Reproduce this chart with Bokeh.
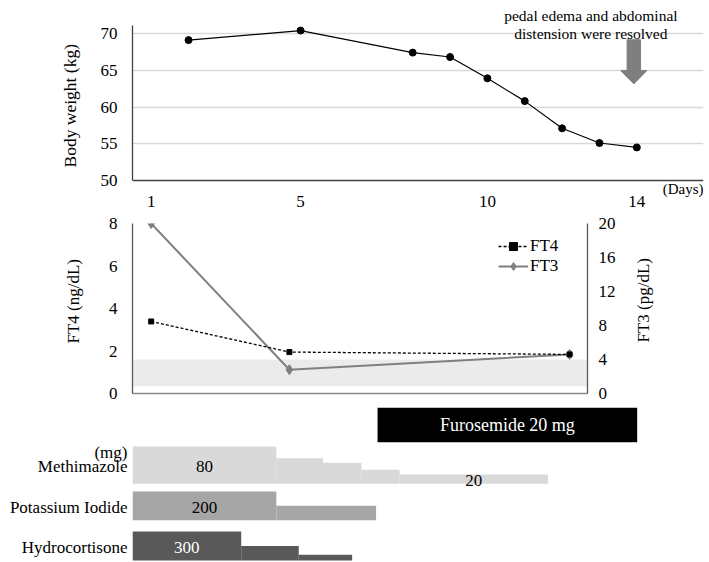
import math
from bokeh.plotting import figure
from bokeh.models import (Range1d, LinearAxis, FixedTicker, Label, Legend,
                          LegendItem, BoxAnnotation, Grid, Title)
from bokeh.embed import file_html
from bokeh.resources import INLINE
from bokeh.core.properties import value

FONT = "Liberation Serif"
NBSP = "\u00a0"

# ---------------- data ----------------
day_ticks = [1, 5, 10, 14]
weight_days = [2, 5, 8, 9, 10, 11, 12, 13, 14]
weight_kg = [69.1, 70.4, 67.4, 66.8, 63.9, 60.8, 57.1, 55.1, 54.5]
weight_ticks = [50, 55, 60, 65, 70]

lab_days = [1, 4.7, 12.2]
ft4_values = [3.39, 1.95, 1.84]
ft3_values = [20.0, 2.8, 4.6]
ft4_ticks = [0, 2, 4, 6, 8]
ft3_ticks = [0, 4, 8, 12, 16, 20]
ft4_normal_low = 0.34
ft4_normal_high = 1.6

furosemide_start = 7.06
furosemide_end = 14.01
furosemide_text = "Furosemide 20 mg"

drug_names = ["Methimazole", "Potassium Iodide", "Hydrocortisone"]
methimazole_edges = [0.5, 4.35, 5.6, 6.63, 7.65, 11.62]
methimazole_mg = [80, 55, 45, 30, 20]
ki_edges = [0.5, 4.35, 7.02]
ki_mg = [200, 100]
hc_edges = [0.5, 3.41, 4.95, 6.38]
hc_mg = [300, 150, 60]
dose_labels = {"Methimazole": [0, 4], "Potassium Iodide": [0], "Hydrocortisone": [0]}

annotation_lines = ["pedal edema and abdominal", "distension were resolved"]
arrow_day = 13.92

# ---------------- styles ----------------
W = 709
PXD = 37.357          # pixels per day
PXKG = 7.35           # pixels per kg
AX = "#404040"
GRID = "#d9d9d9"


def style_axis(ax, size="17px"):
    ax.major_tick_out = 0
    ax.major_tick_in = 0
    ax.minor_tick_out = 0
    ax.minor_tick_in = 0
    ax.major_label_text_font = FONT
    ax.major_label_text_font_size = size
    ax.major_label_text_color = "#000000"
    ax.axis_label_text_font = FONT
    ax.axis_label_text_font_size = "17px"
    ax.axis_label_text_font_style = "normal"
    ax.axis_label_text_color = "#000000"


def side_title(text, offset, standoff, size="17px"):
    return Title(text=text, align="left", offset=offset, standoff=standoff,
                 vertical_align="bottom", text_font=FONT,
                 text_font_size=size, text_font_style="normal",
                 text_color="#000000")


# ---------------- top: body weight ----------------
# frame spans the whole upper area; 50 kg sits 18 px above the frame bottom
y0 = weight_ticks[0] - 18 / PXKG
pA = figure(width=W, height=213, output_backend="svg", toolbar_location=None,
            x_range=Range1d(0.5, 0.5 + 571 / PXD),
            y_range=Range1d(y0, y0 + 198 / PXKG),
            min_border_left=132, min_border_right=6, min_border_top=0,
            min_border_bottom=15)
pA.outline_line_color = None
pA.xgrid.visible = False
pA.ygrid.ticker = FixedTicker(ticks=weight_ticks[1:])
pA.ygrid.grid_line_color = GRID
pA.ygrid.grid_line_width = 1.3
pA.ygrid.bounds = (0.5, 14.5)
# x axis line at 50 kg, limited to the day span
pA.add_layout(Grid(dimension=1, ticker=FixedTicker(ticks=[weight_ticks[0]]),
                   bounds=(0.5, 14.5), grid_line_color=AX, grid_line_width=1.3))

xa = pA.xaxis[0]
style_axis(xa)
xa.ticker = FixedTicker(ticks=day_ticks)
xa.axis_line_color = None
xa.major_label_standoff = -3

ya = pA.yaxis[0]
style_axis(ya)
ya.ticker = FixedTicker(ticks=weight_ticks)
ya.bounds = (weight_ticks[0], 50 + 155 / PXKG)
ya.axis_line_color = AX
ya.axis_line_width = 1.3
ya.major_label_standoff = 15
pA.add_layout(side_title("Body weight (kg)", 31, 36, "17.5px"), "left")

pA.line(weight_days, weight_kg, line_color="#000000", line_width=1.2)
pA.scatter(weight_days, weight_kg, marker="circle", size=7,
           fill_color="#000000", line_color="#000000")

# arrow (annotation) built around arrow_day
a_top, a_head, a_tip = 69.15, 64.95, 63.15
sh, hh = 0.18, 0.35
pA.patch([arrow_day - sh, arrow_day + sh, arrow_day + sh, arrow_day + hh,
          arrow_day, arrow_day - hh, arrow_day - sh],
         [a_top, a_top, a_head, a_head, a_tip, a_head, a_head],
         fill_color="#7f7f7f", line_color="#7f7f7f")

for i, txt in enumerate(annotation_lines):
    pA.add_layout(Label(x=12.77, x_units="data", y=183 - 18 * i, y_units="screen",
                        text=txt, text_align="center", text_baseline="alphabetic",
                        text_font=FONT, text_font_size="15.5px", text_color="#000000"))

pA.add_layout(Label(x=571, x_units="screen", y=10, y_units="screen",
                    text="(Days)", text_align="right", text_baseline="middle",
                    text_font=FONT, text_font_size="15px", text_color="#000000"))

# ---------------- middle: thyroid hormones ----------------
pB = figure(width=W, height=190, output_backend="svg", toolbar_location=None,
            x_range=Range1d(0.5, 0.5 + 455 / PXD), y_range=Range1d(0, 8),
            min_border_left=132, min_border_right=122, min_border_top=10,
            min_border_bottom=10)
pB.outline_line_color = None
pB.grid.visible = False
pB.extra_y_ranges = {"ft3": Range1d(0, 20)}

pB.add_layout(BoxAnnotation(bottom=ft4_normal_low, top=ft4_normal_high,
                            fill_color="#ebebeb", fill_alpha=1.0,
                            line_color=None, level="underlay"))

style_axis(pB.xaxis[0])
pB.xaxis[0].ticker = FixedTicker(ticks=[])
pB.xaxis[0].major_label_text_font_size = "0px"
pB.xaxis[0].axis_line_color = "#8c8c8c"
pB.xaxis[0].axis_line_width = 1.3

yb = pB.yaxis[0]
style_axis(yb)
yb.ticker = FixedTicker(ticks=ft4_ticks)
yb.axis_line_color = "#595959"
yb.axis_line_width = 1.3
yb.major_label_standoff = 15
pB.add_layout(side_title("FT4 (ng/dL)", 50, 46), "left")

rax = LinearAxis(y_range_name="ft3", ticker=FixedTicker(ticks=ft3_ticks))
style_axis(rax)
rax.axis_line_color = "#595959"
rax.axis_line_width = 1.3
rax.major_label_standoff = 11
rax.axis_label = NBSP * 12 + "FT3 (pg/dL)"
rax.axis_label_standoff = 25
rax.axis_label_orientation = math.pi / 2
rax.axis_label_align = "start"
pB.add_layout(rax, "right")

l3 = pB.line(lab_days, ft3_values, y_range_name="ft3", line_color="#7f7f7f",
             line_width=2)
s3 = pB.scatter(lab_days, ft3_values, y_range_name="ft3", marker="diamond",
                size=10, fill_color="#7f7f7f", line_color="#7f7f7f")
l4 = pB.line(lab_days, ft4_values, line_color="#000000", line_width=1.3,
             line_dash="3 2")
s4 = pB.scatter(lab_days, ft4_values, marker="square", size=5,
                fill_color="#000000", line_color="#000000")

legend = Legend(items=[LegendItem(label="FT4", renderers=[l4, s4]),
                       LegendItem(label="FT3", renderers=[l3, s3])],
                location=(366, 117), orientation="vertical")
legend.border_line_color = None
legend.background_fill_alpha = 0
legend.padding = 0
legend.margin = 0
legend.spacing = 0
legend.glyph_width = 30
legend.glyph_height = 20
legend.label_height = 20
legend.label_standoff = 2
legend.label_text_font = FONT
legend.label_text_font_size = "17px"
legend.label_text_color = "#000000"
pB.add_layout(legend)

# ---------------- bottom: medications ----------------
pC = figure(width=W, height=159, output_backend="svg", toolbar_location=None,
            x_range=Range1d(0.5, 14.5), y_range=Range1d(0, 159),
            x_axis_location=None,
            min_border_left=132, min_border_right=54, min_border_top=0,
            min_border_bottom=0)
pC.outline_line_color = None
pC.grid.visible = False

# Furosemide band
fb, ft = 120.3, 154.7
pC.quad(left=[furosemide_start], right=[furosemide_end], bottom=[fb], top=[ft],
        fill_color="#000000", line_color=None)
pC.text(x=[(furosemide_start + furosemide_end) / 2], y=[(fb + ft) / 2],
        text=[furosemide_text], text_align="center", text_baseline="middle",
        text_font=value(FONT), text_font_size=value("18px"), text_color="#ffffff")

rows = [
    ("Methimazole", methimazole_edges, methimazole_mg, 78.7, 37.3, "#d9d9d9", "#000000"),
    ("Potassium Iodide", ki_edges, ki_mg, 42.3, 28.7, "#a6a6a6", "#000000"),
    ("Hydrocortisone", hc_edges, hc_mg, 2.0, 29.0, "#595959", "#ffffff"),
]
row_ticks = []
row_names = {}
for name, edges, mg, base, hmax, color, tcolor in rows:
    scale = hmax / max(mg)
    pC.quad(left=edges[:-1], right=edges[1:], bottom=[base] * len(mg),
            top=[base + m * scale for m in mg], fill_color=color, line_color=None)
    idx = dose_labels[name]
    pC.text(x=[(edges[i] + edges[i + 1]) / 2 for i in idx],
            y=[base + mg[i] * scale / 2 - 1.5 for i in idx],
            text=[str(mg[i]) for i in idx], text_align="center",
            text_baseline="middle", text_font=value(FONT),
            text_font_size=value("17px"), text_color=tcolor)
    t = round(base + hmax / 2 - 1.5, 2)
    row_ticks.append(t)
    row_names[t] = name
    if name == "Methimazole":
        t2 = round(base + hmax - 5.5, 2)
        row_ticks.append(t2)
        row_names[t2] = "(mg)"

yc = pC.yaxis[0]
style_axis(yc)
yc.ticker = FixedTicker(ticks=row_ticks)
yc.major_label_overrides = row_names
yc.axis_line_color = None
yc.major_label_standoff = 5

open("out.html", "w").write(file_html([pA, pB, pC], INLINE))
